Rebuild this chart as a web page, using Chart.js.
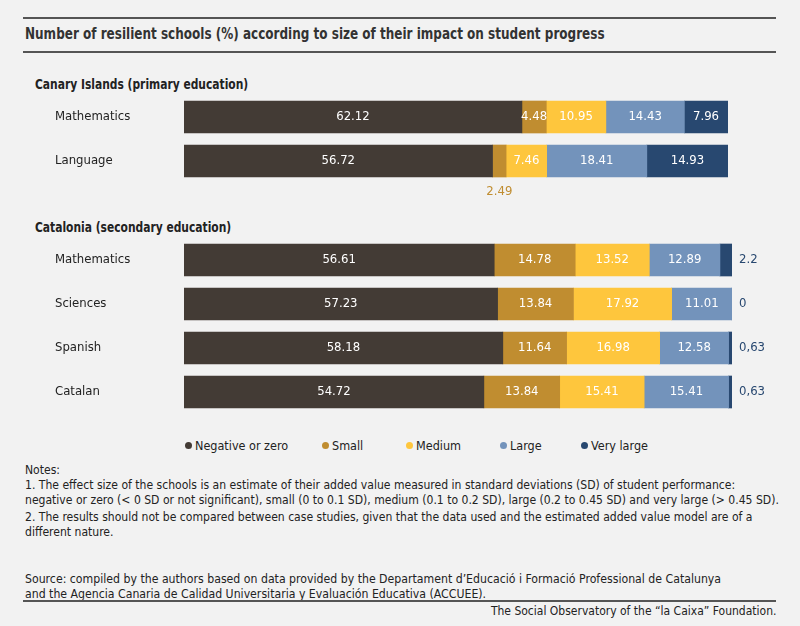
<!DOCTYPE html>
<html>
<head>
<meta charset="utf-8">
<script src="https://cdn.jsdelivr.net/npm/chart.js@4.4.1/dist/chart.umd.min.js"></script>
<style>
  body { margin: 0; background: #f2f2f2; font-family: "DejaVu Sans Condensed", "DejaVu Sans", sans-serif; color: #222; }
  #page { position: relative; width: 800px; height: 626px; overflow: hidden; }
  .rule { position: absolute; left: 23px; width: 753px; height: 2px; background: #555; }
  .abs { position: absolute; white-space: nowrap; transform-origin: left center; }
  .title { left: 25px; top: 24px; font-size: 16px; font-weight: bold; color: #333; transform: scaleX(0.835); }
  .head { left: 35px; font-size: 14px; font-weight: bold; color: #222; transform: scaleX(0.85); }
  .legend { top: 438px; font-size: 12.5px; color: #222; }
  .legend span.dot { display: inline-block; width: 7px; height: 7px; border-radius: 50%; margin-right: 3px; vertical-align: 1px; }
  .notes { left: 25px; font-size: 12.5px; color: #222; line-height: 15px; transform: scaleX(0.965); }
  .source { transform: scaleX(0.975); }
  .foot { right: 24px; top: 603px; font-size: 12.5px; color: #222; transform-origin: right center; transform: scaleX(0.96); }
  .wrap { position: absolute; left: 55px; }
</style>
</head>
<body>
<div id="page">
  <div class="rule" style="top:17px"></div>
  <div class="abs title">Number of resilient schools (%) according to size of their impact on student progress</div>
  <div class="rule" style="top:51px"></div>

  <div class="abs head" style="top:76px">Canary Islands (primary education)</div>
  <div class="wrap" style="top:95px; width:673px; height:112px;"><canvas id="canaryChart"></canvas></div>

  <div class="abs head" style="top:219px">Catalonia (secondary education)</div>
  <div class="wrap" style="top:238px; width:745px; height:176px;"><canvas id="cataloniaChart"></canvas></div>

  <div id="legend"></div>

  <div class="abs notes" style="top:462px">Notes:<br>1. The effect size of the schools is an estimate of their added value measured in standard deviations (SD) of student performance:<br>negative or zero (&lt; 0 SD or not significant), small (0 to 0.1 SD), medium (0.1 to 0.2 SD), large (0.2 to 0.45 SD) and very large (&gt; 0.45 SD).</div>
  <div class="abs notes" style="top:509px">2. The results should not be compared between case studies, given that the data used and the estimated added value model are of a<br>different nature.</div>
  <div class="abs notes source" style="top:571px">Source: compiled by the authors based on data provided by the Departament d’Educació i Formació Professional de Catalunya<br>and the Agencia Canaria de Calidad Universitaria y Evaluación Educativa (ACCUEE).</div>
  <div class="rule" style="top:600px"></div>
  <div class="abs foot">The Social Observatory of the “la Caixa” Foundation.</div>
</div>

<script>
// Series names and colours
const seriesNames = ['Negative or zero', 'Small', 'Medium', 'Large', 'Very large'];
const seriesColors = ['#433b35', '#c08d30', '#fec63d', '#7393bb', '#284870'];

// Canary Islands (primary)
const canaryCategories = ['Mathematics', 'Language'];
const canaryNegative = [62.12, 56.72];
const canarySmall = [4.48, 2.49];
const canaryMedium = [10.95, 7.46];
const canaryLarge = [14.43, 18.41];
const canaryVeryLarge = [7.96, 14.93];

// Catalonia (secondary)
const cataloniaCategories = ['Mathematics', 'Sciences', 'Spanish', 'Catalan'];
const cataloniaNegative = [56.61, 57.23, 58.18, 54.72];
const cataloniaSmall = [14.78, 13.84, 11.64, 13.84];
const cataloniaMedium = [13.52, 17.92, 16.98, 15.41];
const cataloniaLarge = [12.89, 11.01, 12.58, 15.41];
const cataloniaVeryLarge = [2.2, 0, 0.63, 0.63];
const cataloniaVeryLargeText = ['2.2', '0', '0,63', '0,63'];

const FONT = '"DejaVu Sans Condensed", "DejaVu Sans", sans-serif';

// Draws the value labels; a few go outside the bar
const valueLabels = {
    id: 'valueLabels',
    afterDatasetsDraw(chart, args, opts) {
        const ctx = chart.ctx;
        ctx.save();
        ctx.font = '13px ' + FONT;
        ctx.textBaseline = 'middle';
        chart.data.datasets.forEach((ds, di) => {
            const meta = chart.getDatasetMeta(di);
            meta.data.forEach((bar, i) => {
                const v = ds.data[i];
                const text = ds.texts ? ds.texts[i] : String(v);
                const below = opts.below && opts.below[0] === di && opts.below[1] === i;
                if (opts.outsideDataset === di) {
                    ctx.fillStyle = seriesColors[di];
                    ctx.textAlign = 'left';
                    ctx.fillText(text, chart.chartArea.right + 7, bar.y);
                } else if (below) {
                    ctx.fillStyle = seriesColors[di];
                    ctx.textAlign = 'center';
                    ctx.fillText(text, (bar.x + bar.base) / 2, bar.y + 31);
                } else {
                    ctx.fillStyle = '#ffffff';
                    ctx.textAlign = 'center';
                    ctx.fillText(text, (bar.x + bar.base) / 2, bar.y);
                }
            });
        });
        ctx.restore();
    }
};

function makeChart(id, categories, series, padRight, padBottom, labelOpts, texts) {
    const datasets = series.map((data, k) => ({
        label: seriesNames[k],
        data: data,
        backgroundColor: seriesColors[k],
        borderWidth: 0,
        barThickness: 32,
        texts: texts && texts[k]
    }));
    return new Chart(document.getElementById(id), {
        type: 'bar',
        data: { labels: categories, datasets: datasets },
        options: {
            indexAxis: 'y',
            responsive: true,
            maintainAspectRatio: false,
            animation: false,
            layout: { padding: { left: 0, right: padRight, top: 0, bottom: padBottom } },
            scales: {
                x: { stacked: true, min: 0, max: 100, display: false },
                y: {
                    stacked: true,
                    grid: { display: false },
                    border: { display: false },
                    ticks: { crossAlign: 'far', color: '#222', font: { family: FONT, size: 13 }, padding: 0 },
                    afterFit(axis) {
                        axis.width = 129;
                        axis.paddingTop = 0;
                        axis.paddingBottom = 0;
                    }
                }
            },
            plugins: {
                legend: { display: false },
                tooltip: { enabled: false },
                valueLabels: labelOpts
            }
        },
        plugins: [valueLabels]
    });
}

makeChart('canaryChart', canaryCategories,
    [canaryNegative, canarySmall, canaryMedium, canaryLarge, canaryVeryLarge],
    0, 24, { below: [1, 1] });

makeChart('cataloniaChart', cataloniaCategories,
    [cataloniaNegative, cataloniaSmall, cataloniaMedium, cataloniaLarge, cataloniaVeryLarge],
    68, 0, { outsideDataset: 4 }, [null, null, null, null, cataloniaVeryLargeText]);

// HTML legend
const legendX = [185, 322, 406, 500, 581];
const legend = document.getElementById('legend');
seriesNames.forEach((name, k) => {
    const el = document.createElement('div');
    el.className = 'abs legend';
    el.style.left = legendX[k] + 'px';
    el.innerHTML = '<span class="dot" style="background:' + seriesColors[k] + '"></span>' + name;
    legend.appendChild(el);
});
</script>
</body>
</html>
